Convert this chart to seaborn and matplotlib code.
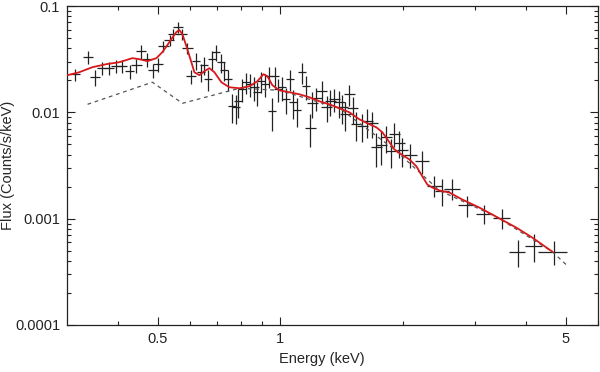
import numpy as np
import pandas as pd
import matplotlib.pyplot as plt
import seaborn as sns
from matplotlib.ticker import FixedLocator, FixedFormatter, LogLocator, NullFormatter
plt.switch_backend('Agg')

# Observed spectrum (keV, counts/s/keV)
energy = [0.314, 0.338, 0.352, 0.366, 0.381, 0.396, 0.410, 0.427, 0.444, 0.456,
          0.472, 0.488, 0.502, 0.517, 0.535, 0.547, 0.562, 0.575, 0.592, 0.605,
          0.622, 0.640, 0.651, 0.666, 0.681, 0.697, 0.717, 0.729, 0.745, 0.763,
          0.780, 0.789, 0.807, 0.825, 0.844, 0.864, 0.878, 0.898, 0.919, 0.940,
          0.956, 0.972, 0.989, 1.011, 1.034, 1.058, 1.076, 1.101, 1.132, 1.158,
          1.185, 1.198, 1.225, 1.261, 1.297, 1.326, 1.356, 1.395, 1.419, 1.443,
          1.476, 1.502, 1.536, 1.589, 1.634, 1.681, 1.719, 1.768, 1.819, 1.871,
          1.903, 1.957, 1.991, 2.083, 2.228, 2.385, 2.495, 2.640, 2.858, 3.162,
          3.482, 3.810, 4.170, 4.669]
flux = [0.0228, 0.0330, 0.0214, 0.0260, 0.0260, 0.0272, 0.0272, 0.0244, 0.0278, 0.0376,
        0.0316, 0.0249, 0.0284, 0.0420, 0.0478, 0.0544, 0.0633, 0.0544, 0.0402, 0.0219,
        0.0303, 0.0239, 0.0278, 0.0205, 0.0316, 0.0368, 0.0296, 0.0249, 0.0205, 0.0114,
        0.0112, 0.0127, 0.0165, 0.0192, 0.0184, 0.0172, 0.0154, 0.0196, 0.0184, 0.0219,
        0.0102, 0.0219, 0.0165, 0.0172, 0.0133, 0.0205, 0.0124, 0.0105, 0.0239, 0.0176,
        0.0072, 0.0122, 0.0136, 0.0158, 0.0112, 0.0127, 0.0133, 0.0124, 0.0112, 0.0096,
        0.0148, 0.0109, 0.0077, 0.0075, 0.0082, 0.0079, 0.0047, 0.0049, 0.0058, 0.0043,
        0.0063, 0.0052, 0.0044, 0.0040, 0.0035, 0.00205, 0.00184, 0.00192, 0.00133, 0.00111,
        0.00102, 0.000488, 0.000556, 0.000488]
energy_err = [0.009, 0.010, 0.010, 0.010, 0.011, 0.011, 0.012, 0.012, 0.013, 0.013,
              0.013, 0.014, 0.014, 0.015, 0.015, 0.016, 0.016, 0.016, 0.017, 0.017,
              0.014, 0.015, 0.015, 0.015, 0.016, 0.016, 0.016, 0.017, 0.017, 0.017,
              0.018, 0.018, 0.018, 0.019, 0.019, 0.020, 0.020, 0.020, 0.021, 0.021,
              0.022, 0.022, 0.022, 0.023, 0.024, 0.024, 0.025, 0.025, 0.026, 0.026,
              0.035, 0.036, 0.037, 0.038, 0.039, 0.040, 0.041, 0.042, 0.043, 0.043,
              0.044, 0.045, 0.046, 0.048, 0.049, 0.050, 0.052, 0.053, 0.055, 0.056,
              0.057, 0.059, 0.060, 0.075, 0.090, 0.10, 0.10, 0.12, 0.13, 0.15,
              0.16, 0.17, 0.20, 0.38]
flux_rel_err = [0.13, 0.14, 0.18, 0.14, 0.14, 0.14, 0.14, 0.15, 0.15, 0.15,
                0.15, 0.15, 0.15, 0.12, 0.12, 0.12, 0.12, 0.12, 0.12, 0.15,
                0.18, 0.20, 0.20, 0.22, 0.20, 0.18, 0.20, 0.20, 0.22, 0.30,
                0.30, 0.30, 0.25, 0.22, 0.25, 0.25, 0.25, 0.22, 0.25, 0.22,
                0.35, 0.22, 0.25, 0.25, 0.28, 0.22, 0.30, 0.30, 0.22, 0.25,
                0.35, 0.28, 0.25, 0.25, 0.28, 0.28, 0.25, 0.28, 0.30, 0.30,
                0.22, 0.28, 0.30, 0.30, 0.30, 0.28, 0.35, 0.35, 0.28, 0.30,
                0.25, 0.28, 0.30, 0.25, 0.25, 0.22, 0.28, 0.22, 0.22, 0.20,
                0.22, 0.28, 0.30, 0.25]

# Best-fit model (red)
model_energy = [0.3006, 0.3217, 0.3462, 0.3746, 0.4033, 0.4338, 0.4512, 0.4721, 0.4967, 0.5138,
                0.5284, 0.5405, 0.5560, 0.5655, 0.5752, 0.5883, 0.6051, 0.6154, 0.6331, 0.6510,
                0.6698, 0.6890, 0.7167, 0.7499, 0.7936, 0.8395, 0.8784, 0.9086, 0.9293, 0.9559,
                0.9944, 1.0522, 1.1131, 1.1778, 1.2462, 1.3185, 1.3953, 1.4762, 1.5619, 1.6339,
                1.7191, 1.7783, 1.8292, 1.9027, 1.9794, 2.0717, 2.1544, 2.2284, 2.2921, 2.3575,
                2.4528, 2.5953, 2.7928, 3.0741, 3.3840, 3.7880, 4.1460, 4.6416]
model_flux = [0.02234, 0.02385, 0.02658, 0.02837, 0.02963, 0.03232, 0.03162, 0.03028, 0.03232, 0.03681,
              0.04286, 0.04884, 0.05685, 0.05937, 0.05441, 0.04195, 0.02963, 0.02385, 0.02234, 0.02436,
              0.02601, 0.02385, 0.01919, 0.01721, 0.01684, 0.01759, 0.01962, 0.02283, 0.02186, 0.01798,
              0.01612, 0.01544, 0.01478, 0.01385, 0.01270, 0.01190, 0.01091, 0.01000, 0.00859, 0.00788,
              0.00722, 0.00648, 0.00556, 0.00448, 0.00402, 0.00360, 0.00310, 0.00249, 0.00209, 0.00196,
              0.00184, 0.00176, 0.00151, 0.00127, 0.00104, 0.000822, 0.000662, 0.000488]

# Continuum component (dashed)
cont_energy = [0.3369, 0.4856, 0.5752, 0.7936, 0.9944, 1.3953, 1.9027, 2.4528, 3.3840, 4.6416, 5.05]
cont_flux = [0.0119, 0.0192, 0.01216, 0.01684, 0.01612, 0.01091, 0.00448, 0.00184, 0.00104, 0.000488, 0.00036]

df = pd.DataFrame({'energy': energy, 'flux': flux,
                   'xerr': energy_err, 'yerr': np.array(flux) * np.array(flux_rel_err)})

sns.set_style("ticks")
plt.rcParams['font.family'] = ['Liberation Sans', 'DejaVu Sans']

fig, ax = plt.subplots(figsize=(6, 3.72), dpi=100)
fig.subplots_adjust(left=67/600, right=598/600, bottom=47/372, top=1-6/372)

ax.errorbar(df['energy'], df['flux'], xerr=df['xerr'], yerr=df['yerr'],
            fmt='none', ecolor='#222222', elinewidth=0.9, capsize=0, zorder=2)
sns.lineplot(x=cont_energy, y=cont_flux, ax=ax, color='#555555', lw=0.9,
             linestyle=(0, (3, 3)), sort=False, estimator=None, zorder=3)
sns.lineplot(x=model_energy, y=model_flux, ax=ax, color='#d7191c', lw=1.3,
             sort=False, estimator=None, zorder=4)

ax.set_xscale('log')
ax.set_yscale('log')
ax.set_xlim(0.3, 6)
ax.set_ylim(1e-4, 0.1)

ax.xaxis.set_major_locator(FixedLocator([0.5, 1, 5]))
ax.xaxis.set_major_formatter(FixedFormatter(['0.5', '1', '5']))
ax.xaxis.set_minor_locator(FixedLocator([0.4, 0.6, 0.7, 0.8, 0.9, 2, 3, 4, 6]))
ax.xaxis.set_minor_formatter(NullFormatter())
ax.yaxis.set_major_locator(FixedLocator([1e-4, 1e-3, 1e-2, 1e-1]))
ax.yaxis.set_major_formatter(FixedFormatter(['0.0001', '0.001', '0.01', '0.1']))
ax.yaxis.set_minor_locator(LogLocator(base=10, subs=np.arange(2, 10)))
ax.yaxis.set_minor_formatter(NullFormatter())

ax.tick_params(which='both', direction='in', top=True, right=True, colors='#222222',
               labelsize=10.5, width=0.8)
ax.tick_params(which='major', length=6, pad=5)
ax.tick_params(which='minor', length=3)
for s in ax.spines.values():
    s.set_color('#222222')
    s.set_linewidth(0.9)

ax.set_xlabel('Energy (keV)', fontsize=10.5)
ax.set_ylabel('Flux (Counts/s/keV)', fontsize=10.5)
ax.xaxis.set_label_coords(0.48, -0.085)
ax.yaxis.set_label_coords(-0.097, 0.5)

plt.savefig('out.png', dpi=100)
